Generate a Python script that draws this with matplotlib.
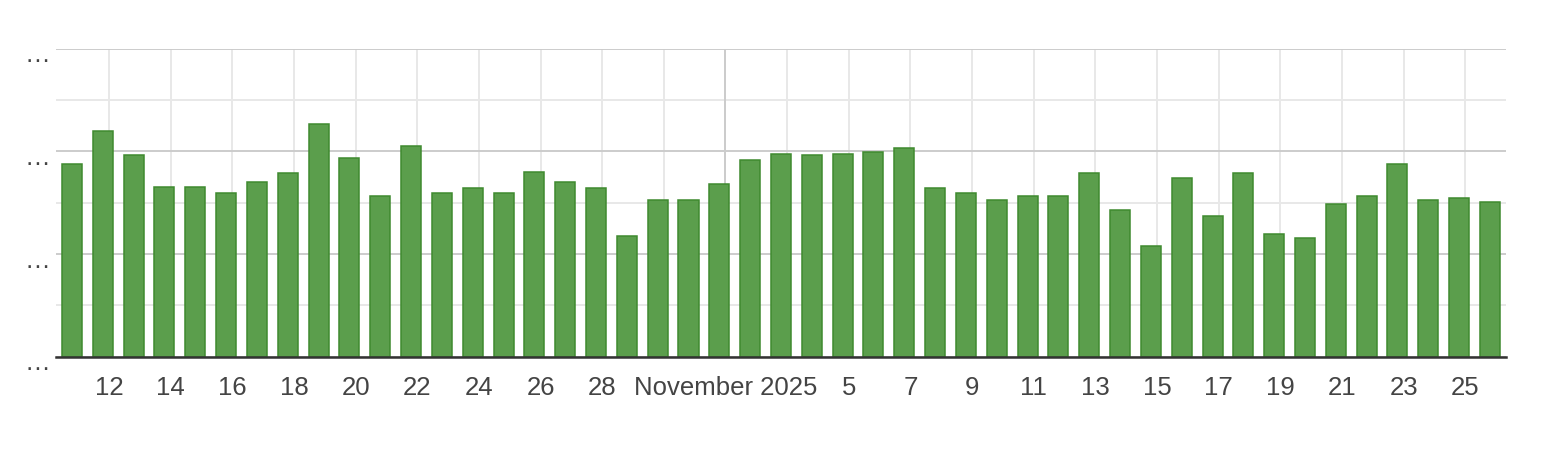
import matplotlib
matplotlib.use("Agg")
import matplotlib.pyplot as plt
import matplotlib.dates as mdates
import matplotlib.transforms as mtransforms
import numpy as np
import pandas as pd

# daily values, 11 Oct 2025 .. 26 Nov 2025 (axis units: gridline every 1)
start_date = "2025-10-11"
values = [
    3.76, 4.39, 3.92, 3.30, 3.30, 3.18, 3.41, 3.57, 4.54, 3.88, 3.14,  # Oct 11-21
    4.11, 3.18, 3.29, 3.18, 3.60, 3.41, 3.29, 2.36, 3.06, 3.06,        # Oct 22-31
    3.37, 3.84, 3.95, 3.92, 3.95, 3.99, 4.07, 3.29, 3.18, 3.06,        # Nov 1-10
    3.14, 3.14, 3.57, 2.86, 2.16, 3.49, 2.75, 3.57, 2.40, 2.32,        # Nov 11-20
    2.98, 3.14, 3.76, 3.06, 3.10, 3.02,                                # Nov 21-26
]
tick_dates = ["2025-10-12", "2025-10-14", "2025-10-16", "2025-10-18", "2025-10-20",
              "2025-10-22", "2025-10-24", "2025-10-26", "2025-10-28", "2025-10-30",
              "2025-11-01", "2025-11-03", "2025-11-05", "2025-11-07", "2025-11-09",
              "2025-11-11", "2025-11-13", "2025-11-15", "2025-11-17", "2025-11-19",
              "2025-11-21", "2025-11-23", "2025-11-25"]
tick_labels = ["12", "14", "16", "18", "20", "22", "24", "26", "28", "",
               "November 2025", "", "5", "7", "9", "11", "13", "15", "17", "19",
               "21", "23", "25"]
month_start = "2025-11-01"

plt.rcParams["font.family"] = ["Liberation Sans", "DejaVu Sans"]

dates = pd.date_range(start_date, periods=len(values), freq="D")
x = mdates.date2num(dates.to_pydatetime())

fig = plt.figure(figsize=(15.5, 4.5), dpi=100)
ax = fig.add_axes([0.0361, 0.2073, 0.9355, 0.6845])

# bars sit a little left of the day tick (timezone shift in the source chart)
ax.bar(x - 0.2, values, width=0.65, color="#5b9e4c", edgecolor="#3f8a2f",
       linewidth=1.1, zorder=3)

ax.set_xlim(x[0] - 0.72, x[-1] + 0.32)
ax.set_ylim(0, 6)

ax.set_yticks([0, 2, 4, 6])
ax.set_yticklabels(["…"] * 4)
ax.set_yticks([1, 3, 5], minor=True)
ax.grid(axis="y", which="major", color="#cccccc", linewidth=1.4, zorder=0)
ax.grid(axis="y", which="minor", color="#e8e8e8", linewidth=1.4, zorder=0)

tx = mdates.date2num(pd.to_datetime(tick_dates).to_pydatetime())
ax.set_xticks(tx)
ax.set_xticklabels(tick_labels)
ax.grid(axis="x", which="major", color="#e8e8e8", linewidth=1.4, zorder=0)
ax.axvline(mdates.date2num(pd.Timestamp(month_start).to_pydatetime()),
           color="#cccccc", linewidth=1.4, zorder=1)

ax.tick_params(axis="both", which="both", length=0, labelsize=18.5, colors="#444444")
ax.tick_params(axis="x", pad=14)
ax.tick_params(axis="y", pad=4)

# the "…" labels sit a few px under their gridline in the original
shift = mtransforms.ScaledTranslation(0, -4 / 100, fig.dpi_scale_trans)
for lab in ax.get_yticklabels():
    lab.set_transform(lab.get_transform() + shift)

for side in ["top", "right", "left"]:
    ax.spines[side].set_visible(False)
ax.spines["bottom"].set_color("#333333")
ax.spines["bottom"].set_linewidth(1.8)
ax.spines["bottom"].set_zorder(4)
ax.set_axisbelow(True)

fig.savefig("out.png", dpi=100, facecolor="white")
